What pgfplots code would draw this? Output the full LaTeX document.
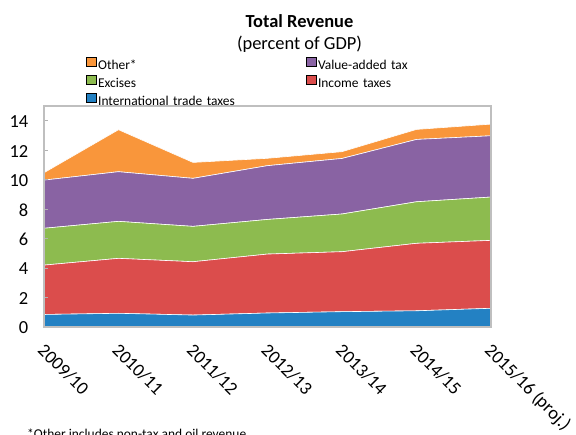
\documentclass[border=0pt]{standalone}
\usepackage{fontspec}
\setmainfont{Carlito}
\usepackage{pgfplots}
\usepackage{pgfplotstable}
\pgfplotsset{compat=1.18}
\definecolor{cBlue}{HTML}{2381C3}
\definecolor{cRed}{HTML}{DB4D4C}
\definecolor{cGreen}{HTML}{8DBB4F}
\definecolor{cPurple}{HTML}{8963A3}
\definecolor{cOrange}{HTML}{F9963B}
\pgfplotstableread{
x intl income excises vat other
0 0.85 3.35 2.50 3.27 0.50
1 0.93 3.73 2.51 3.37 2.85
2 0.81 3.62 2.40 3.26 1.08
3 0.95 4.00 2.35 3.65 0.50
4 1.04 4.07 2.56 3.77 0.46
5 1.10 4.58 2.82 4.23 0.68
6 1.27 4.61 2.94 4.16 0.79
}\datatable
\begin{document}
\begin{tikzpicture}
\useasboundingbox (0bp,0bp) rectangle (576bp,435bp);
\node[anchor=base, inner sep=0pt, font=\fontsize{18.5}{22}\selectfont\bfseries] at (299.5bp,407bp) {Total Revenue};
\node[anchor=base, inner sep=0pt, font=\fontsize{18.5}{22}\selectfont] at (299.5bp,385bp) {(percent of GDP)};
\node[anchor=base west, inner sep=0pt, font=\fontsize{13.5}{16}\selectfont] at (27bp,-3.7bp) {*Other includes non-tax and oil revenue};
\begin{axis}[
  at={(44bp,108bp)}, anchor=south west,
  scale only axis, width=447bp, height=221bp,
  xmin=0, xmax=6, ymin=0, ymax=15,
  ytick={0,2,...,14},
  xtick=data,
  xticklabels={2009/10,2010/11,2011/12,2012/13,2013/14,2014/15,2015/16 (proj.)},
  x tick style={draw=none},
  ytick pos=left,
  y tick style={draw=black!30, line width=0.8bp},
  major tick length=4bp,
  tick label style={font=\fontsize{18.5}{22}\selectfont},
  /pgf/number format/assume math mode=true,
  xticklabel style={xshift=1bp, yshift=-16bp, rotate=-45, anchor=north west, inner sep=0pt, text height=11.5bp, text depth=0pt},
  yticklabel style={inner xsep=0pt, xshift=-15.5bp, yshift=-1bp},
  axis line style={draw=black!25, line width=1.2bp},
  axis on top,
  stack plots=y,
  legend columns=2,
  legend cell align=left,
  legend style={draw=none, fill=none, inner sep=0pt, at={(0.094,1.224)}, anchor=north west,
     font=\fontsize{13.5}{16}\selectfont, column sep=0pt, row sep=0pt,
     nodes={inner xsep=2bp, inner ysep=0bp, text height=10bp, text depth=5.7bp, text width=206bp, align=left}},
  legend image code/.code={\fill[#1] (0bp,0.5bp) rectangle (9.5bp,10bp);},
]
\addlegendimage{fill=cOrange}\addlegendentry{Other*}
\addlegendimage{fill=cPurple}\addlegendentry{Value-added tax}
\addlegendimage{fill=cGreen}\addlegendentry{Excises}
\addlegendimage{fill=cRed}\addlegendentry{Income taxes}
\addlegendimage{fill=cBlue}\addlegendentry{International trade taxes}
\addplot[fill=cBlue, draw=white, line width=0.6bp, forget plot] table[x=x, y=intl] {\datatable} \closedcycle;
\addplot[fill=cRed, draw=white, line width=0.6bp, forget plot] table[x=x, y=income] {\datatable} \closedcycle;
\addplot[fill=cGreen, draw=white, line width=0.6bp, forget plot] table[x=x, y=excises] {\datatable} \closedcycle;
\addplot[fill=cPurple, draw=white, line width=0.6bp, forget plot] table[x=x, y=vat] {\datatable} \closedcycle;
\addplot[fill=cOrange, draw=white, line width=0.6bp, forget plot] table[x=x, y=other] {\datatable} \closedcycle;
\end{axis}
\end{tikzpicture}
\end{document}
